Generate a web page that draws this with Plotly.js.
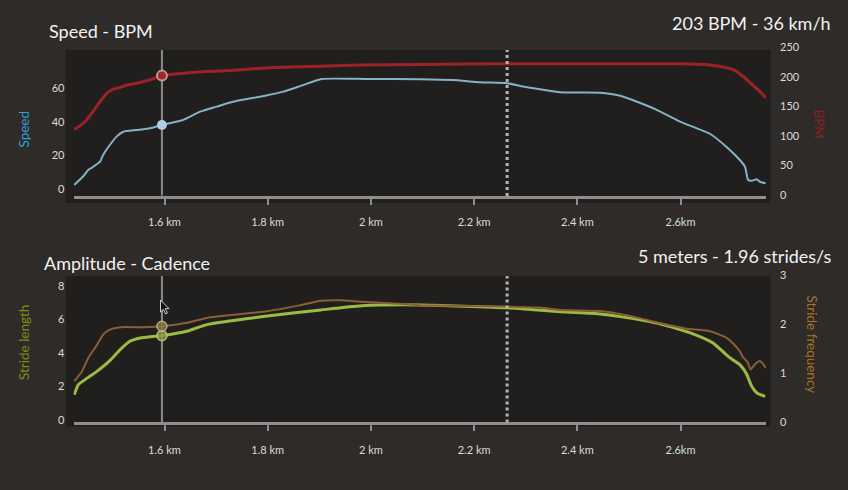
<!DOCTYPE html>
<html>
<head>
<meta charset="utf-8">
<script src="https://cdn.plot.ly/plotly-3.0.1.min.js"></script>
<style>
html,body{margin:0;padding:0;background:#2e2b28;}
#chart{width:848px;height:490px;}
</style>
</head>
<body>
<div id="chart"></div>
<script>
// ---- data (distance in km) ----
const dist_bpm = [1.425,1.436,1.449,1.462,1.475,1.488,1.501,1.514,1.527,1.546,1.56,1.572,1.595,1.636,1.682,1.733,1.795,1.864,1.905,1.982,2.095,2.264,2.444,2.6,2.657,2.686,2.702,2.721,2.74,2.754,2.766];
const bpm      = [111,117,127,142,158,172,179,182,186,189,192,195,202,206,209,211,215,217,218,220,221,222,222,222,220,216,212,201,186,175,164];

const dist_spd = [1.425,1.443,1.452,1.462,1.475,1.481,1.494,1.507,1.520,1.546,1.572,1.595,1.636,1.669,1.701,1.733,1.795,1.830,1.864,1.905,1.992,2.095,2.159,2.211,2.264,2.289,2.328,2.367,2.444,2.483,2.516,2.553,2.599,2.657,2.692,2.715,2.725,2.731,2.738,2.748,2.754,2.765];
const speed    = [2.6,7.9,11.5,13.4,16.4,20.4,26.3,31.3,34.2,35.2,36.2,38.2,41.2,46.1,49.1,52.0,55.6,58.0,61.4,65.5,65.5,65.4,64.9,63.6,63.0,61.4,59.4,57.6,57.4,55.6,52.0,47.3,40.2,33.0,24.4,17.4,13.4,5.5,5.1,5.9,4.5,3.6];

const dist_len = [1.425,1.433,1.443,1.469,1.494,1.514,1.533,1.553,1.595,1.643,1.682,1.795,1.903,1.982,2.095,2.264,2.367,2.444,2.483,2.560,2.624,2.663,2.690,2.702,2.715,2.728,2.738,2.748,2.764];
const strideLength = [1.5,2.1,2.34,2.9,3.54,4.2,4.7,4.9,5.04,5.3,5.7,6.2,6.58,6.83,6.88,6.71,6.47,6.34,6.18,5.75,5.15,4.6,3.86,3.58,3.3,2.74,2.0,1.6,1.4];

const dist_frq = [1.425,1.440,1.452,1.469,1.481,1.494,1.514,1.559,1.595,1.643,1.682,1.795,1.864,1.903,1.940,1.982,2.037,2.095,2.264,2.328,2.367,2.444,2.483,2.522,2.560,2.612,2.657,2.690,2.702,2.715,2.721,2.730,2.736,2.744,2.753,2.761,2.765];
const strideFreq = [0.83,1.03,1.30,1.57,1.78,1.88,1.93,1.93,1.95,2.02,2.12,2.25,2.38,2.47,2.48,2.45,2.42,2.38,2.35,2.33,2.28,2.26,2.2,2.11,2.01,1.9,1.85,1.71,1.60,1.44,1.32,1.22,1.07,1.17,1.24,1.17,1.10];

const cursorKm = 1.595;
const lapKm = 2.264;

const xTickVals = [1.6,1.8,2.0,2.2,2.4,2.6];
const xTickText = ['1.6 km','1.8 km','2 km','2.2 km','2.4 km','2.6km'];
const speedTicks = [0,20,40,60];
const bpmTicks = [0,50,100,150,200,250];
const lenTicks = [0,2,4,6,8];
const frqTicks = [0,1,2,3];

const topTitle = 'Speed - BPM';
const topInfo = '203 BPM - 36 km/h';
const botTitle = 'Amplitude - Cadence';
const botInfo = '5 meters - 1.96 strides/s';

// ---- helpers (pixel -> paper for decorations) ----
const W = 848, H = 490;
const px = v => v / W;
const py = v => 1 - v / H;

const FONT = 'Lato, "Open Sans", sans-serif';
const smooth = {shape:'spline', smoothing:0.5};

const traces = [
  {x: dist_bpm, y: bpm, xaxis:'x', yaxis:'y2', mode:'lines', line:Object.assign({color:'#9e2129', width:3}, smooth), hoverinfo:'skip'},
  {x: dist_spd, y: speed, xaxis:'x', yaxis:'y', mode:'lines', line:Object.assign({color:'#86b2c6', width:2}, smooth), hoverinfo:'skip'},
  {x: dist_frq, y: strideFreq, xaxis:'x2', yaxis:'y4', mode:'lines', line:Object.assign({color:'#8a5f37', width:2}, smooth), hoverinfo:'skip'},
  {x: dist_len, y: strideLength, xaxis:'x2', yaxis:'y3', mode:'lines', line:Object.assign({color:'#9dbb43', width:3}, smooth), hoverinfo:'skip'},
  // cursor markers
  {x:[cursorKm], y:[bpm[dist_bpm.indexOf(cursorKm)]], xaxis:'x', yaxis:'y2', mode:'markers',
   marker:{size:10, color:'#9a2a30', line:{color:'rgba(225,170,170,0.8)', width:2}}, hoverinfo:'skip'},
  {x:[cursorKm], y:[speed[dist_spd.indexOf(cursorKm)]], xaxis:'x', yaxis:'y', mode:'markers',
   marker:{size:10, color:'#a9d0e4', line:{width:0}}, hoverinfo:'skip'},
  {x:[cursorKm], y:[strideFreq[dist_frq.indexOf(cursorKm)]], xaxis:'x2', yaxis:'y4', mode:'markers',
   marker:{size:10, color:'rgba(140,120,70,0.8)', line:{color:'rgba(200,190,130,0.8)', width:1.5}}, hoverinfo:'skip'},
  {x:[cursorKm], y:[strideLength[dist_len.indexOf(cursorKm)]], xaxis:'x2', yaxis:'y3', mode:'markers',
   marker:{size:10, color:'rgba(140,150,70,0.8)', line:{color:'rgba(200,210,130,0.8)', width:1.5}}, hoverinfo:'skip'}
];

const xDomain = [px(73.5), px(766)];
const xRange = [1.4236, 2.7657];
const tickFont = {family: FONT, size: 11, color: '#dcdcdc'};

const xCommon = {
  domain: xDomain, range: xRange, tickvals: xTickVals, ticktext: xTickText,
  showgrid:false, zeroline:false, showline:true, linecolor:'#8e8e8e', linewidth:3,
  ticks:'outside', ticklen:6, tickwidth:2, tickcolor:'#8e8e8e', tickfont: tickFont, fixedrange:true
};
const yCommon = {showgrid:false, zeroline:false, showline:false, ticks:'', tickfont: tickFont, fixedrange:true};

const layout = {
  width: W, height: H,
  margin:{l:0,r:0,t:0,b:0},
  paper_bgcolor:'#2e2b28', plot_bgcolor:'rgba(0,0,0,0)',
  showlegend:false,
  font:{family: FONT, color:'#eeeeee'},
  xaxis: Object.assign({}, xCommon, {anchor:'y', ticklabelstandoff:8}),
  xaxis2: Object.assign({}, xCommon, {anchor:'y3', ticklabelstandoff:9}),
  yaxis: Object.assign({}, yCommon, {domain:[py(195.5), py(44)], range:[-3.68, 86.3], tickvals: speedTicks, ticklabelstandoff:8, anchor:'x'}),
  yaxis2: Object.assign({}, yCommon, {overlaying:'y', side:'right', anchor:'x', range:[-0.85, 255.5], tickvals: bpmTicks, ticklabelstandoff:13}),
  yaxis3: Object.assign({}, yCommon, {domain:[py(422.3), py(272)], range:[-0.156, 8.855], tickvals: lenTicks, ticklabelstandoff:8, anchor:'x2'}),
  yaxis4: Object.assign({}, yCommon, {overlaying:'y3', side:'right', anchor:'x2', range:[-0.006, 3.055], tickvals: frqTicks, ticklabelstandoff:13}),
  shapes: [
    {type:'rect', xref:'paper', yref:'paper', x0:px(65.5), x1:px(770.5), y0:py(203), y1:py(50), fillcolor:'#201f1e', line:{width:0}, layer:'below'},
    {type:'rect', xref:'paper', yref:'paper', x0:px(66), x1:px(770.5), y0:py(426.5), y1:py(276), fillcolor:'#201f1e', line:{width:0}, layer:'below'},
    {type:'line', xref:'x', yref:'paper', x0:cursorKm, x1:cursorKm, y0:py(195.5), y1:py(50), line:{color:'#8a8a8a', width:2}, layer:'below'},
    {type:'line', xref:'x', yref:'paper', x0:lapKm, x1:lapKm, y0:py(196), y1:py(50), line:{color:'#b4b4b4', width:3, dash:'dot'}},
    {type:'line', xref:'x2', yref:'paper', x0:cursorKm, x1:cursorKm, y0:py(422), y1:py(276), line:{color:'#8a8a8a', width:2}, layer:'below'},
    {type:'line', xref:'x2', yref:'paper', x0:lapKm, x1:lapKm, y0:py(422.5), y1:py(276), line:{color:'#b4b4b4', width:3, dash:'dot'}},
    {type:'path', xref:'paper', yref:'paper',
     path: 'M '+px(160.5)+' '+py(300)+' L '+px(160.5)+' '+py(312)+' L '+px(163.3)+' '+py(309.3)+' L '+px(165.6)+' '+py(314)+' L '+px(167.4)+' '+py(313)+' L '+px(165.2)+' '+py(308.6)+' L '+px(169)+' '+py(308.6)+' Z',
     fillcolor:'#111111', line:{color:'#cfcfcf', width:1}}
  ],
  annotations: [
    {text: topTitle, xref:'paper', yref:'paper', x:px(47), y:py(31), xanchor:'left', yanchor:'middle', showarrow:false, font:{family:FONT, size:18, color:'#f2f2f2'}},
    {text: topInfo, xref:'paper', yref:'paper', x:px(833), y:py(23), xanchor:'right', yanchor:'middle', showarrow:false, font:{family:FONT, size:18, color:'#f2f2f2'}},
    {text: botTitle, xref:'paper', yref:'paper', x:px(42), y:py(263), xanchor:'left', yanchor:'middle', showarrow:false, font:{family:FONT, size:18, color:'#f2f2f2'}},
    {text: botInfo, xref:'paper', yref:'paper', x:px(834), y:py(256), xanchor:'right', yanchor:'middle', showarrow:false, font:{family:FONT, size:18, color:'#f2f2f2'}},
    {text:'Speed', xref:'paper', yref:'paper', x:px(24), y:py(129.5), xanchor:'center', yanchor:'middle', textangle:-90, showarrow:false, font:{family:FONT, size:13.5, color:'#2e9fd8'}},
    {text:'BPM', xref:'paper', yref:'paper', x:px(819), y:py(123.5), xanchor:'center', yanchor:'middle', textangle:90, showarrow:false, font:{family:FONT, size:13.5, color:'#8c1e22'}},
    {text:'Stride length', xref:'paper', yref:'paper', x:px(24), y:py(343), xanchor:'center', yanchor:'middle', textangle:-90, showarrow:false, font:{family:FONT, size:13.5, color:'#7d8d15'}},
    {text:'Stride frequency', xref:'paper', yref:'paper', x:px(812), y:py(344.5), xanchor:'center', yanchor:'middle', textangle:90, showarrow:false, font:{family:FONT, size:13.5, color:'#a87424'}}
  ]
};

Plotly.newPlot('chart', traces, layout, {displayModeBar:false, staticPlot:true});
</script>
</body>
</html>
